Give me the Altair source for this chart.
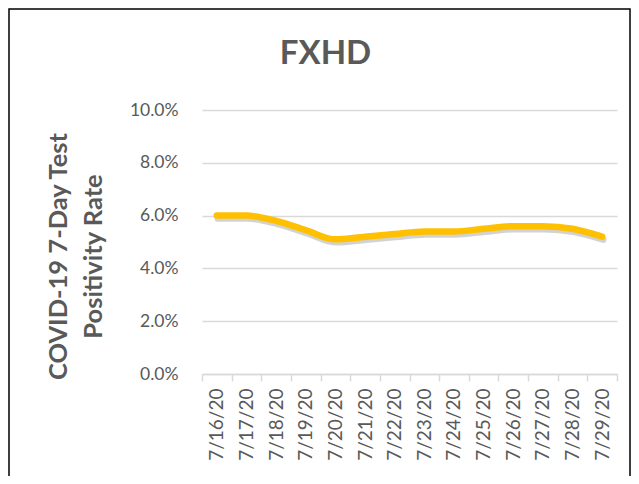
import altair as alt
import pandas as pd

dates = ["7/16/20", "7/17/20", "7/18/20", "7/19/20", "7/20/20", "7/21/20", "7/22/20",
         "7/23/20", "7/24/20", "7/25/20", "7/26/20", "7/27/20", "7/28/20", "7/29/20"]
rates = [0.060, 0.060, 0.058, 0.0545, 0.051, 0.052, 0.053,
         0.054, 0.054, 0.055, 0.056, 0.056, 0.055, 0.052]
y_ticks = [0.0, 0.02, 0.04, 0.06, 0.08, 0.10]

df = pd.DataFrame({"date": dates, "rate": rates})

GRAY = "#595959"
FONT = "Lato"

x_enc = alt.X(
    "date:N", sort=None, bandPosition=0.5,
    scale=alt.Scale(type="band", paddingInner=0, paddingOuter=0),
    axis=alt.Axis(title=None, labelAngle=-90, labelFont=FONT, labelFontSize=19,
                  labelColor=GRAY, labelPadding=7, tickBand="extent", tickColor="#d9d9d9",
                  tickSize=7, domainColor="#d9d9d9", domainWidth=1.5, tickWidth=1.5,
                  grid=False),
)
y_enc = alt.Y(
    "rate:Q",
    scale=alt.Scale(domain=[0, 0.10]),
    axis=alt.Axis(values=y_ticks, format=".1%", ticks=False, domain=False,
                  labelFont=FONT, labelFontSize=17.5, labelColor=GRAY, labelPadding=24,
                  gridColor="#d9d9d9", gridWidth=1.5,
                  title=["COVID-19 7-Day Test", "Positivity Rate"],
                  titleFont=FONT, titleFontSize=25.5, titleFontWeight="bold", titleColor=GRAY,
                  titleLineHeight=35, titleX=-144, titleY=146, titleBaseline="middle",
                  titleAlign="center", titleAngle=-90),
)

shadow = alt.Chart(df).mark_line(
    color="#7f7f7f", opacity=0.35, strokeWidth=6.5, interpolate="monotone",
    strokeCap="round", xOffset=1, yOffset=3,
).encode(x=x_enc, y=y_enc)

line = alt.Chart(df).mark_line(
    color="#FFC000", strokeWidth=6.5, interpolate="monotone", strokeCap="round",
).encode(x=x_enc, y=y_enc)

frame = alt.Chart(alt.Data(values=[{"a": 1}])).mark_rect(
    fill=None, stroke="#000000", strokeWidth=1.5,
).encode(x=alt.value(-193), x2=alt.value(428), y=alt.value(-101), y2=alt.value(380))

chart = alt.layer(frame, shadow, line).properties(
    width=415, height=264,
    padding={"left": 194, "top": 102, "right": 14, "bottom": 102},
    autosize=alt.AutoSizeParams(type="none"),
    title=alt.TitleParams("FXHD", font=FONT, fontSize=33, fontWeight="bold", color=GRAY,
                          anchor="middle", dx=-84, offset=-63),
).configure_view(stroke=None)

chart.save("out.html", embed_options={"renderer": "svg", "actions": False})
